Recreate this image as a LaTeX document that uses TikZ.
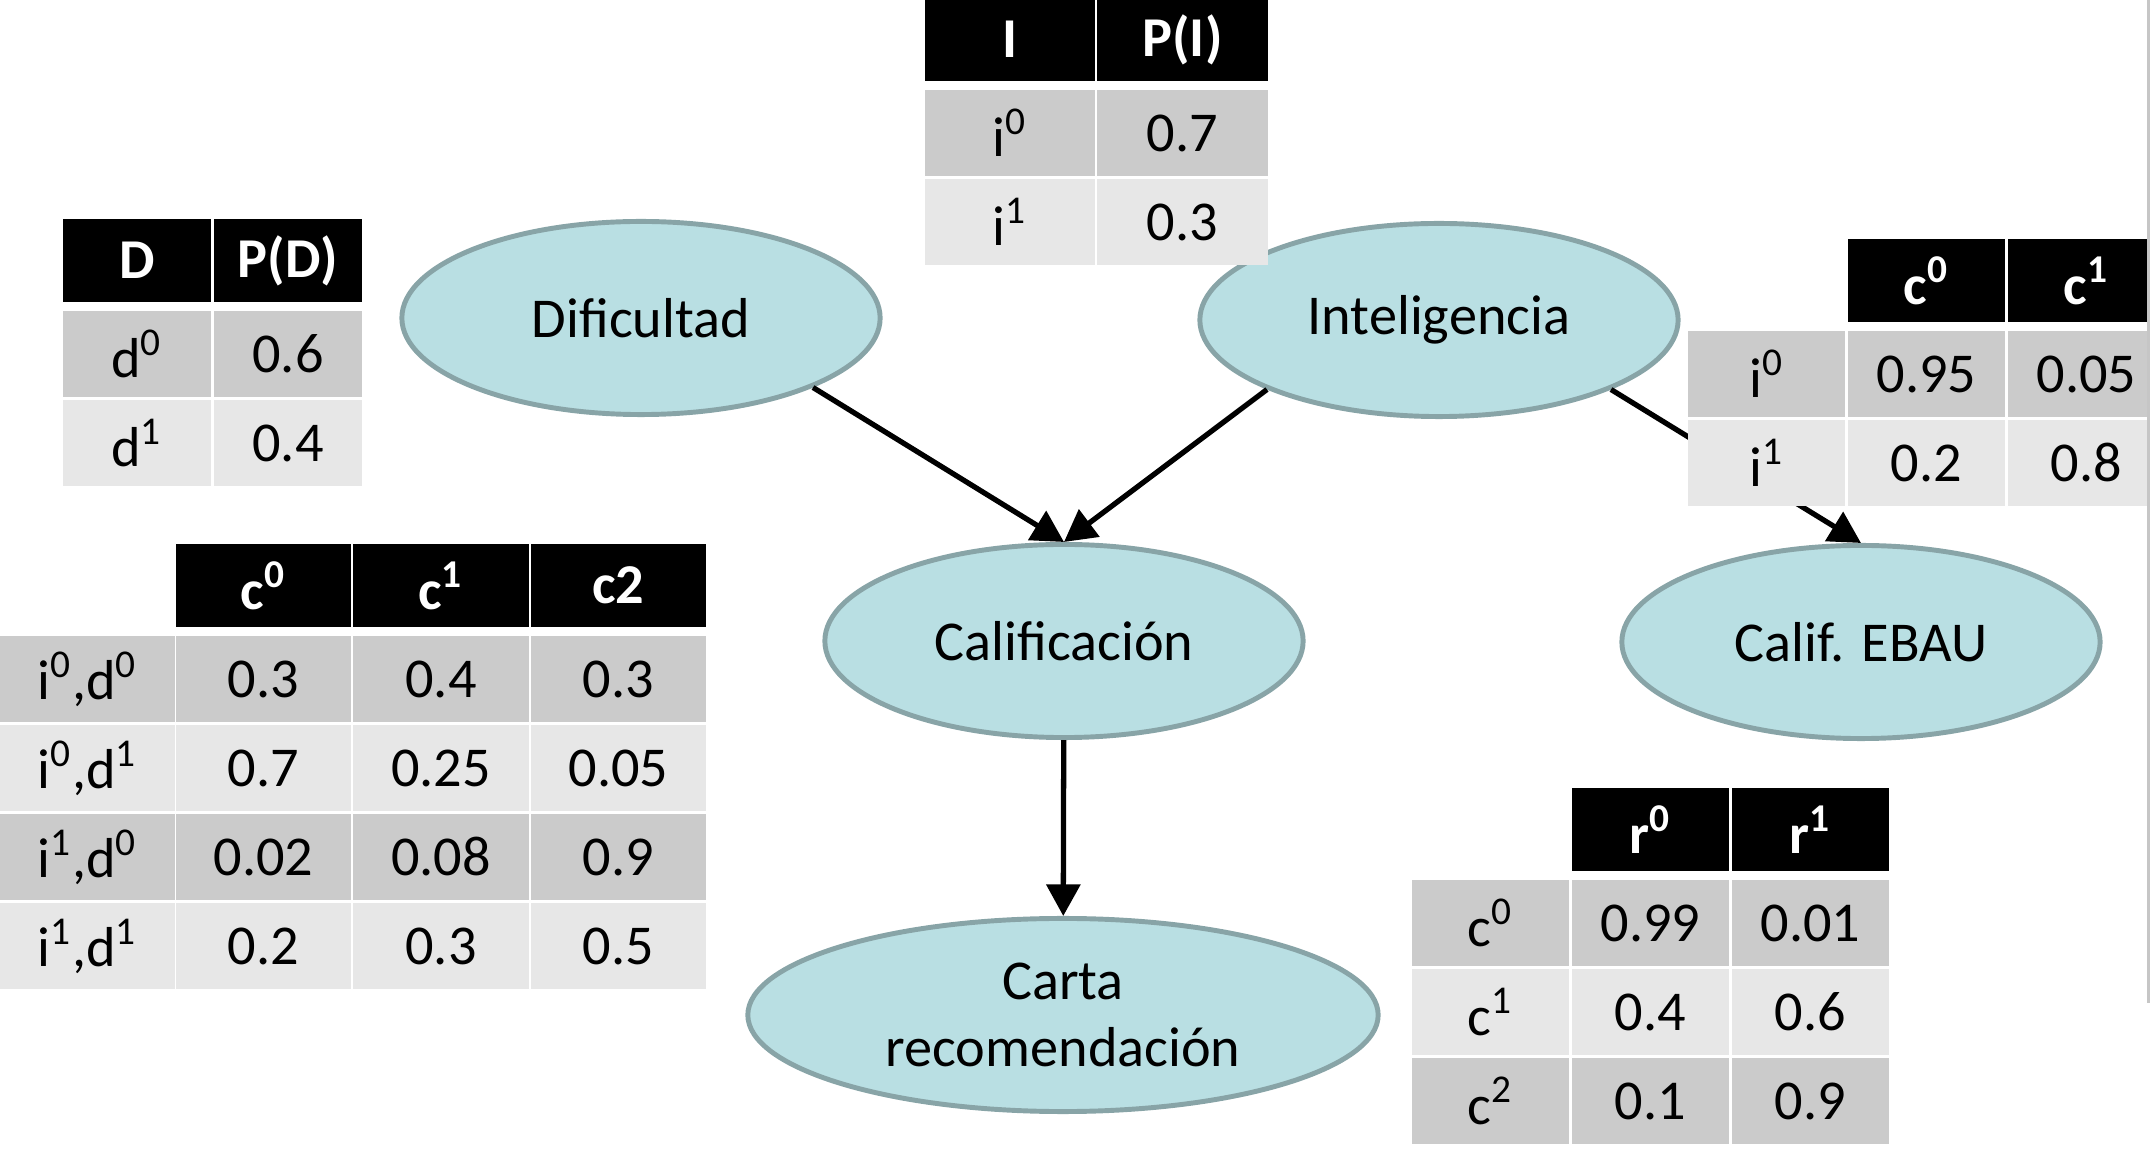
\documentclass[tikz,border=0pt]{standalone}
\usepackage{fontspec}
\setmainfont{Carlito}
\usetikzlibrary{shapes.geometric,arrows.meta}

\definecolor{nodefill}{HTML}{B9DFE3}
\definecolor{nodeedge}{HTML}{88A4A7}
\definecolor{celldark}{HTML}{CBCBCB}
\definecolor{celllight}{HTML}{E7E7E7}

\newcommand{\sps}[1]{\textsuperscript{#1}}

\begin{document}
\begin{tikzpicture}[x=0.01cm,y=-0.01cm,
    font=\fontsize{16}{19}\selectfont,
    var/.style={ellipse,draw=nodeedge,fill=nodefill,line width=1.4pt,inner sep=1pt,
      minimum width=4.78cm,minimum height=1.93cm,align=center},
    arr/.style={-{Triangle[length=9pt,width=9.5pt]},line width=1.5pt},
    hdr/.style={fill=black,text=white,font=\fontsize{16}{19}\selectfont\bfseries,
      inner sep=0pt,minimum height=0.83cm},
    cell/.style={inner sep=0pt,minimum height=0.85cm}]
  \useasboundingbox (0,0) rectangle (2150,1152);

  % Variables
  \node[var] (dif) at (641,318) {Dificultad};
  \node[var] (int) at (1439,320) {Inteligencia};
  \node[var] (cal) at (1064,641) {Calificación};
  \node[var] (ebau) at (1861,642) {Calif. EBAU};
  \node[var,minimum width=6.3cm] (carta) at (1063,1015) {Carta\\recomendación};

  % Links
  \draw[arr] (dif.-22) -- (cal.north);
  \draw[arr] (int.202) -- (cal.north);
  \draw[arr] (int.-22) -- (ebau.north);
  \draw[arr] (cal) -- (carta);

  % P(D)
  \foreach \t [count=\i] in {D,P(D)}
    \node[hdr,minimum width=1.48cm] (pd-h\i) at ({137+151*(\i-1)},260.5) {\t};
  \foreach \a/\b/\f [count=\r] in {d\sps{0}/0.6/celldark,d\sps{1}/0.4/celllight} {
    \node[cell,fill=\f,minimum width=1.48cm] (pd-\r-1) at (137,{354+89*(\r-1)}) {\a};
    \node[cell,fill=\f,minimum width=1.48cm] (pd-\r-2) at (288,{354+89*(\r-1)}) {\b};
  }

  % P(I)
  \foreach \t [count=\i] in {I,P(I)}
    \node[hdr,minimum width=1.7cm] (pi-h\i) at ({1010+172.5*(\i-1)},39.5) {\t};
  \foreach \a/\b/\f [count=\r] in {i\sps{0}/0.7/celldark,i\sps{1}/0.3/celllight} {
    \node[cell,fill=\f,minimum width=1.7cm] (pi-\r-1) at (1010,{133+89*(\r-1)}) {\a};
    \node[cell,fill=\f,minimum width=1.7cm] (pi-\r-2) at (1182.5,{133+89*(\r-1)}) {\b};
  }

  % P(C | I,D)
  \foreach \t [count=\i] in {c\sps{0},c\sps{1},c2}
    \node[hdr,minimum width=1.75cm] (pc-h\i) at ({263.5+177.5*(\i-1)},585.5) {\t};
  \foreach \a/\b/\c/\d/\f [count=\r] in {
      {i\sps{0},d\sps{0}}/0.3/0.4/0.3/celldark,
      {i\sps{0},d\sps{1}}/0.7/0.25/0.05/celllight,
      {i\sps{1},d\sps{0}}/0.02/0.08/0.9/celldark,
      {i\sps{1},d\sps{1}}/0.2/0.3/0.5/celllight} {
    \node[cell,fill=\f,minimum width=1.74cm] (pc-\r-0) at (87.5,{679+89*(\r-1)}) {\a};
    \node[cell,fill=\f,minimum width=1.75cm] (pc-\r-1) at (263.5,{679+89*(\r-1)}) {\b};
    \node[cell,fill=\f,minimum width=1.75cm] (pc-\r-2) at (441,{679+89*(\r-1)}) {\c};
    \node[cell,fill=\f,minimum width=1.75cm] (pc-\r-3) at (618.5,{679+89*(\r-1)}) {\d};
  }

  % P(E | I)
  \foreach \t [count=\i] in {c\sps{0},c\sps{1}}
    \node[hdr,minimum width=1.57cm] (pe-h\i) at ({1926.5+160*(\i-1)},280.5) {\t};
  \foreach \a/\b/\c/\f [count=\r] in {i\sps{0}/0.95/0.05/celldark,i\sps{1}/0.2/0.8/celllight} {
    \node[cell,fill=\f,minimum width=1.57cm] (pe-\r-0) at (1766.5,{374+89*(\r-1)}) {\a};
    \node[cell,fill=\f,minimum width=1.57cm] (pe-\r-1) at (1926.5,{374+89*(\r-1)}) {\b};
    \node[cell,fill=\f,minimum width=1.57cm] (pe-\r-2) at (2086.5,{374+89*(\r-1)}) {\c};
  }

  % P(R | C)
  \foreach \t [count=\i] in {r\sps{0},r\sps{1}}
    \node[hdr,minimum width=1.57cm] (pr-h\i) at ({1650.5+160*(\i-1)},829.5) {\t};
  \foreach \a/\b/\c/\f [count=\r] in {c\sps{0}/0.99/0.01/celldark,c\sps{1}/0.4/0.6/celllight,
      c\sps{2}/0.1/0.9/celldark} {
    \node[cell,fill=\f,minimum width=1.57cm] (pr-\r-0) at (1490.5,{923+89*(\r-1)}) {\a};
    \node[cell,fill=\f,minimum width=1.57cm] (pr-\r-1) at (1650.5,{923+89*(\r-1)}) {\b};
    \node[cell,fill=\f,minimum width=1.57cm] (pr-\r-2) at (1810.5,{923+89*(\r-1)}) {\c};
  }

  % slide edge
  \draw[gray!45,line width=0.6pt] (2148.5,0) -- (2148.5,1003);
\end{tikzpicture}
\end{document}
